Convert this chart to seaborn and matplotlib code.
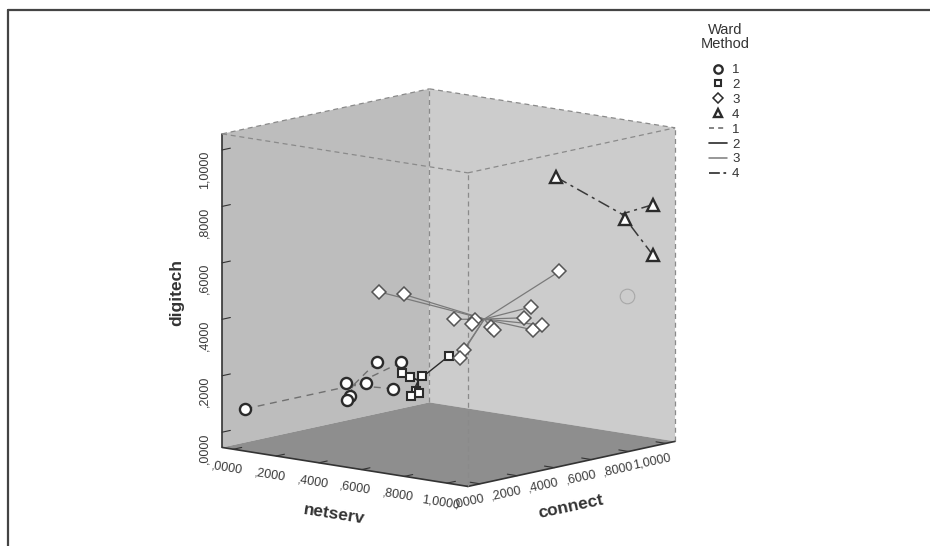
import numpy as np
import pandas as pd
import matplotlib
matplotlib.use("Agg")
import matplotlib.pyplot as plt
import seaborn as sns
from matplotlib.lines import Line2D
from matplotlib.ticker import FuncFormatter

sns.set_style("white")
plt.rcParams['font.family'] = ['Liberation Sans', 'DejaVu Sans']

# values, one group per Ward cluster
netserv_1 = [0.00, 0.34, 0.44, 0.51, 0.39, 0.43, 0.40, 0.37]
connect_1 = [0.00, 0.15, 0.20, 0.25, 0.20, 0.30, 0.10, 0.12]
digitech_1 = [0.08, 0.19, 0.27, 0.27, 0.19, 0.16, 0.16, 0.14]

netserv_2 = [0.47, 0.51, 0.52, 0.45, 0.48, 0.47, 0.56]
connect_2 = [0.30, 0.30, 0.35, 0.40, 0.38, 0.35, 0.45]
digitech_2 = [0.22, 0.21, 0.21, 0.14, 0.14, 0.13, 0.27]

netserv_3 = [0.45, 0.48, 0.54, 0.64, 0.58, 0.67, 0.64, 0.86, 0.77, 0.78, 0.78, 0.78, 0.63, 0.61]
connect_3 = [0.20, 0.30, 0.50, 0.50, 0.55, 0.55, 0.60, 0.70, 0.65, 0.60, 0.65, 0.70, 0.45, 0.45]
digitech_3 = [0.52, 0.50, 0.39, 0.40, 0.37, 0.37, 0.35, 0.57, 0.44, 0.41, 0.36, 0.37, 0.30, 0.27]

netserv_4 = [0.80, 0.95, 1.02, 1.02]
connect_4 = [0.75, 0.95, 1.02, 1.02]
digitech_4 = [0.89, 0.73, 0.78, 0.60]

# case without a cluster (faint ring)
netserv_na = [0.96]
connect_na = [0.95]
digitech_na = [0.46]

ticks = [0.0, 0.2, 0.4, 0.6, 0.8, 1.0]
clusters = ["1", "2", "3", "4"]

df = pd.concat([
    pd.DataFrame({"netserv": netserv_1, "connect": connect_1, "digitech": digitech_1, "ward": "1"}),
    pd.DataFrame({"netserv": netserv_2, "connect": connect_2, "digitech": digitech_2, "ward": "2"}),
    pd.DataFrame({"netserv": netserv_3, "connect": connect_3, "digitech": digitech_3, "ward": "3"}),
    pd.DataFrame({"netserv": netserv_4, "connect": connect_4, "digitech": digitech_4, "ward": "4"}),
], ignore_index=True)

styles = {
    "1": dict(marker="o", ms=8, mec="#2b2b2b", mew=1.7, ls=(0, (5, 4)), lc="#707070", lw=1.0),
    "2": dict(marker="s", ms=6, mec="#2b2b2b", mew=1.5, ls="-", lc="#2b2b2b", lw=1.0),
    "3": dict(marker="D", ms=7.3, mec="#555555", mew=1.1, ls="-", lc="#7a7a7a", lw=0.9),
    "4": dict(marker="^", ms=8, mec="#2b2b2b", mew=1.7, ls=(0, (8, 3, 2, 3)), lc="#3a3a3a", lw=1.1),
}
legend_dash = {"1": (0, (3, 2.5)), "2": "-", "3": "-", "4": (0, (6, 2, 1.5, 2))}


def fmt(v, pos=None):
    s = f"{v:.4f}".replace(".", ",")
    return s[1:] if s.startswith("0,") else s


fig = plt.figure(figsize=(9.3, 5.46), dpi=100)
ax = fig.add_axes([0.1809, -0.0403, 0.5871, 1.0], projection="3d", proj_type="ortho")
ax.view_init(elev=10.7, azim=-49.5)
ax.set_box_aspect((1.013, 1, 1), zoom=0.987)
ax.set_xlim(-0.053, 1.097)
ax.set_ylim(-0.065, 1.05)
ax.set_zlim(-0.054, 1.057)
ax.grid(False)
ax.computed_zorder = False

ax.xaxis.set_pane_color("#bdbdbd")
ax.yaxis.set_pane_color("#cccccc")
ax.zaxis.set_pane_color("#8e8e8e")
for axis in (ax.xaxis, ax.yaxis, ax.zaxis):
    axis.pane.set_edgecolor("none")
    axis.line.set_color("#333333")
    axis.line.set_linewidth(1.2)
    axis._axinfo["tick"]["inward_factor"] = 0.0
    axis._axinfo["tick"]["outward_factor"] = 0.5
    axis.set_major_formatter(FuncFormatter(fmt))

ax.zaxis.set_ticks_position("lower")
ax.zaxis.set_label_position("lower")

ax.set_xticks(ticks)
ax.set_yticks(ticks)
ax.set_zticks(ticks)
ax.tick_params(axis="x", labelsize=9, labelcolor="#3a3a3a", color="#333333", pad=-2, labelrotation=-9)
ax.tick_params(axis="y", labelsize=9, labelcolor="#3a3a3a", color="#333333", pad=-3, labelrotation=12)
ax.tick_params(axis="z", labelsize=9, labelcolor="#3a3a3a", color="#333333", pad=0, labelrotation=90)
for lab in ax.get_yticklabels():
    lab.set_horizontalalignment("right")

# axis titles sit along the projected edges
fig.text(334 / 930, 1 - 514 / 546, "netserv", rotation=-9, ha="center", va="center",
         rotation_mode="anchor", fontsize=12.5, fontweight="bold", color="#333333")
fig.text(571 / 930, 1 - 507 / 546, "connect", rotation=12, ha="center", va="center",
         rotation_mode="anchor", fontsize=12.5, fontweight="bold", color="#333333")
fig.text(177 / 930, 1 - 292 / 546, "digitech", rotation=90, ha="center", va="center",
         rotation_mode="anchor", fontsize=12.5, fontweight="bold", color="#333333")

# dashed box edges
x0, x1 = ax.get_xlim()
y0, y1 = ax.get_ylim()
z0, z1 = ax.get_zlim()
edges = [
    ((x0, y0, z1), (x0, y1, z1)), ((x0, y1, z1), (x1, y1, z1)),
    ((x0, y0, z1), (x1, y0, z1)), ((x1, y0, z1), (x1, y1, z1)),
    ((x0, y1, z0), (x0, y1, z1)), ((x1, y0, z0), (x1, y0, z1)),
    ((x1, y1, z0), (x1, y1, z1)),
]
for p, q in edges:
    ax.plot([p[0], q[0]], [p[1], q[1]], [p[2], q[2]], color="#8a8a8a", lw=0.9,
            ls=(0, (4, 3)), zorder=1)

# spikes to the cluster centroids
for k in clusters:
    sub = df[df["ward"] == k]
    st = styles[k]
    cx, cy, cz = sub["netserv"].mean(), sub["connect"].mean(), sub["digitech"].mean()
    for _, r in sub.iterrows():
        ax.plot([r["netserv"], cx], [r["connect"], cy], [r["digitech"], cz],
                color=st["lc"], lw=st["lw"], ls=st["ls"], zorder=2)

for k in clusters:
    sub = df[df["ward"] == k]
    st = styles[k]
    ax.plot(sub["netserv"], sub["connect"], sub["digitech"], ls="none",
            marker=st["marker"], ms=st["ms"], mfc="white", mec=st["mec"], mew=st["mew"], zorder=3)

ax.plot(netserv_na, connect_na, digitech_na, ls="none", marker="o", ms=10.5,
        mfc="none", mec="#a8a8a8", mew=0.8, zorder=3)

# legend
handles = []
for k in clusters:
    st = styles[k]
    handles.append(Line2D([], [], ls="none", marker=st["marker"], ms=st["ms"] * 0.75,
                          mfc="white", mec="#2b2b2b", mew=st["mew"]))
for k in clusters:
    st = styles[k]
    handles.append(Line2D([], [], ls=legend_dash[k], color=st["lc"], lw=st["lw"] + 0.2))
leg = fig.legend(handles, clusters + clusters, loc="upper left",
                 bbox_to_anchor=(709 / 930, 1 - 64 / 546), frameon=False, fontsize=9.5,
                 handlelength=1.4, handletextpad=0.35,
                 labelspacing=0.2, borderaxespad=0, borderpad=0)
for t in leg.get_texts():
    t.set_color("#333333")
fig.text(725 / 930, 1 - 37 / 546, "Ward\nMethod", ha="center", va="center",
         ma="center", fontsize=10.5, color="#333333", linespacing=0.95)

# frame lines of the output window
fig.add_artist(Line2D([8 / 930, 1], [1 - 9.5 / 546] * 2, transform=fig.transFigure,
                      color="#444444", lw=1.6))
fig.add_artist(Line2D([8 / 930] * 2, [0, 1 - 9.5 / 546], transform=fig.transFigure,
                      color="#444444", lw=1.6))

fig.savefig("out.png", dpi=100)
